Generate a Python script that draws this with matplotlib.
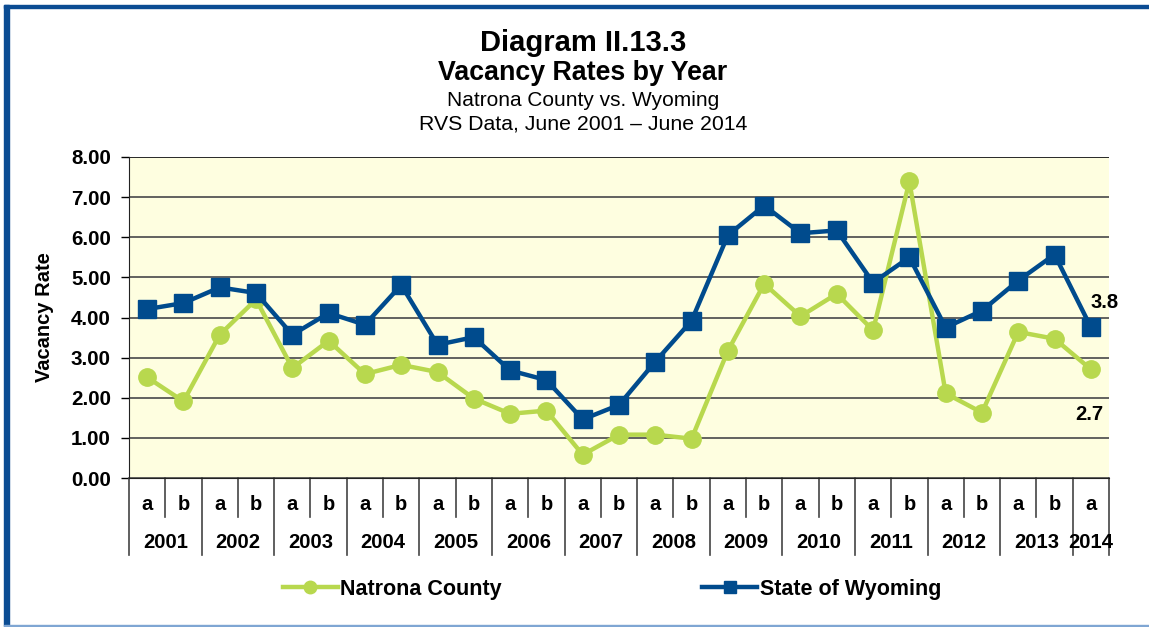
import numpy as np
import matplotlib
matplotlib.use("Agg")
from matplotlib import pyplot as plt
from matplotlib.lines import Line2D
from matplotlib.patches import Rectangle
from matplotlib.transforms import blended_transform_factory

plt.rcParams['font.family'] = ['Liberation Sans', 'DejaVu Sans']

# data
halves = ['a', 'b'] * 13 + ['a']
years = ['2001', '2002', '2003', '2004', '2005', '2006', '2007',
         '2008', '2009', '2010', '2011', '2012', '2013', '2014']
natrona = [2.51, 1.91, 3.57, 4.45, 2.74, 3.42, 2.59, 2.82, 2.64, 1.98,
           1.60, 1.68, 0.58, 1.08, 1.08, 0.98, 3.17, 4.84, 4.03, 4.59,
           3.68, 7.39, 2.11, 1.63, 3.64, 3.47, 2.71]
wyoming = [4.21, 4.36, 4.75, 4.61, 3.57, 4.11, 3.82, 4.81, 3.32, 3.51,
           2.68, 2.44, 1.46, 1.82, 2.90, 3.92, 6.05, 6.79, 6.10, 6.17,
           4.87, 5.50, 3.75, 4.17, 4.92, 5.57, 3.76]
end_labels = ['2.7', '3.8']

GREEN = '#B8D84E'
BLUE = '#004B8D'

W, H = 1149, 627
fig = plt.figure(figsize=(W / 100, H / 100), dpi=100)
ax = fig.add_axes([129 / W, 1 - 478 / H, (1109 - 129) / W, (478 - 157) / H])
ax.set_facecolor('#FEFEE0')

x = np.arange(len(halves))
ax.plot(x, natrona, color=GREEN, lw=3.2, marker='o', ms=12.5, label='Natrona County', zorder=3)
ax.plot(x, wyoming, color=BLUE, lw=3.2, marker='s', ms=13.5, label='State of Wyoming', zorder=4)

ax.annotate(end_labels[0], (x[-1], natrona[-1]), xytext=(-2, -45), textcoords='offset pixels',
            ha='center', va='center', fontsize=14.5, fontweight='bold')
ax.annotate(end_labels[1], (x[-1], wyoming[-1]), xytext=(14, 25), textcoords='offset pixels',
            ha='center', va='center', fontsize=14.5, fontweight='bold')

ax.set_xlim(-0.5, len(halves) - 0.5)
ax.set_ylim(0, 8)
ax.set_yticks(np.arange(0, 9, 1))
ax.set_yticklabels([f'{v:.2f}' for v in range(9)], fontsize=14.8, fontweight='bold')
ax.tick_params(axis='y', length=6, width=1, pad=7)
ax.set_xticks([])
ax.grid(axis='y', color='#555555', lw=1.3)
ax.set_axisbelow(True)
for s in ['right', 'top']:
    ax.spines[s].set_visible(False)
ax.spines['left'].set_color('#222222')
ax.spines['bottom'].set_color('#222222')
ax.axhline(8, color='#222222', lw=1.2, zorder=1)
ax.set_ylabel('Vacancy Rate', fontsize=14.5, fontweight='bold')
ax.yaxis.set_label_coords(-0.077, 0.5)

# category table below the axis
tr = blended_transform_factory(ax.transData, ax.transAxes)
row1 = 39 / 321
row2 = 77 / 321
for k in range(len(halves) + 1):
    full = (k % 2 == 0) or k == len(halves)
    ax.plot([k - 0.5, k - 0.5], [0, -(row2 if full else row1)], transform=tr,
            color='#444444', lw=1.2, clip_on=False)
for i, h in enumerate(halves):
    ax.text(i, -27 / 321, h, transform=tr, ha='center', va='center',
            fontsize=14.5, fontweight='bold')
for j, yr in enumerate(years):
    xc = 2 * j + 0.5 if j < len(years) - 1 else 2 * j
    ax.text(xc, -65 / 321, yr, transform=tr, ha='center', va='center',
            fontsize=14.6, fontweight='bold')

# titles
fig.text(583 / W, 1 - 43 / H, 'Diagram II.13.3', ha='center', va='center', fontsize=21, fontweight='bold')
fig.text(583 / W, 1 - 73 / H, 'Vacancy Rates by Year', ha='center', va='center', fontsize=19.3, fontweight='bold')
fig.text(583 / W, 1 - 101 / H, 'Natrona County vs. Wyoming', ha='center', va='center', fontsize=15)
fig.text(583 / W, 1 - 124 / H, 'RVS Data, June 2001 \u2013 June 2014', ha='center', va='center', fontsize=15.3)

# legend
handles = [Line2D([], [], color=GREEN, lw=3.2, marker='o', ms=9),
           Line2D([], [], color=BLUE, lw=3.2, marker='s', ms=9)]
leg = fig.legend(handles, ['Natrona County', 'State of Wyoming'], loc='center left',
                 bbox_to_anchor=(283 / W, 1 - 589 / H), ncol=2, frameon=False,
                 borderpad=0, borderaxespad=0,
                 handlelength=2.55, handletextpad=0.12, columnspacing=9.3,
                 prop={'size': 15.5, 'weight': 'bold'})

# outer frame
fig.patches.append(Rectangle((4 / W, 1 - 8 / H), 1, 3 / H, transform=fig.transFigure,
                             color='#0B4C93', zorder=0))
fig.patches.append(Rectangle((4 / W, 1 - 626 / H), 5 / W, 621 / H, transform=fig.transFigure,
                             color='#0B4C93', zorder=0))
fig.patches.append(Rectangle((4 / W, 1 - 626 / H), 1, 1.5 / H, transform=fig.transFigure,
                             color='#7FA6D3', zorder=0))

fig.savefig('out.png', dpi=100)
